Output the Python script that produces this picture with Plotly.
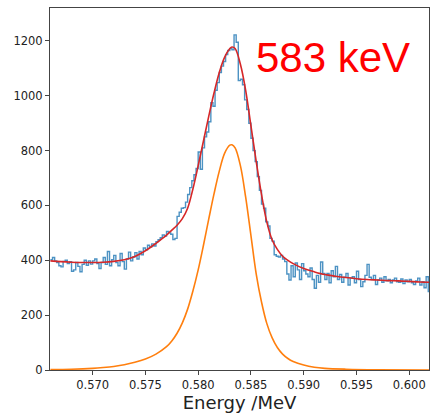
import numpy as np
import plotly.graph_objects as go

# 直方图分箱（MeV）
bin_start = 0.566
bin_width = 0.0002

# 每个分箱的计数
counts = [
    402, 410, 398, 392, 380, 376, 396, 400, 388, 395,
    360, 365, 392, 378, 358, 385, 400, 382, 398, 386,
    398, 405, 388, 370, 392, 410, 385, 432, 380, 402,
    418, 392, 380, 425, 395, 368, 405, 430, 398, 412,
    428, 405, 432, 420, 445, 438, 455, 448, 460, 452,
    468, 475, 482, 492, 488, 505, 500, 495, 476, 480,
    560, 575, 590, 592, 612, 640, 665, 690, 712, 735,
    795, 732, 810, 850, 868, 905, 975, 962, 1020, 1048,
    1085, 1108, 1125, 1150, 1165, 1172, 1168, 1222, 1195, 1055,
    1060, 1040, 985, 950, 900, 845, 800, 760, 705, 655,
    605, 590, 540, 525, 480, 470, 420, 415, 412, 418,
    405, 395, 350, 328, 380, 340, 390, 365, 330, 388,
    362, 350, 340, 372, 330, 298, 345, 320, 394, 352,
    330, 352, 318, 362, 340, 378, 330, 348, 320, 338,
    352, 310, 335, 340, 318, 360, 330, 304, 322, 345,
    385, 338, 330, 345, 312, 328, 335, 320, 340, 325,
    330, 318, 328, 335, 322, 320, 332, 315, 328, 322,
    330, 318, 312, 325, 335, 310, 322, 300, 340, 286,
]

# 总拟合曲线（红）
fit_energy = [0.5660, 0.5670, 0.5680, 0.5690, 0.5700, 0.5710, 0.5720, 0.5730, 0.5740, 0.5750,
              0.5760, 0.5770, 0.5775, 0.5780, 0.5785, 0.5790, 0.5795, 0.5800, 0.5805, 0.5810,
              0.5815, 0.5820, 0.5825, 0.5830, 0.5832, 0.5835, 0.5840, 0.5845, 0.5850, 0.5855,
              0.5860, 0.5865, 0.5870, 0.5875, 0.5880, 0.5885, 0.5890, 0.5900, 0.5910, 0.5920,
              0.5930, 0.5940, 0.5950, 0.5960, 0.5970, 0.5980, 0.5990, 0.6000, 0.6010, 0.6020]
fit_total = [398, 395, 393, 392, 392, 393, 396, 402, 414, 435,
             462, 492, 510, 528, 552, 590, 660, 745, 835, 925,
             1010, 1085, 1140, 1172, 1178, 1172, 1115, 1020, 890, 760,
             640, 540, 475, 440, 415, 400, 388, 370, 358, 348,
             342, 337, 333, 330, 328, 326, 325, 323, 321, 320]

# 峰成分（橙）
peak_energy = [0.5660, 0.5680, 0.5700, 0.5710, 0.5720, 0.5730, 0.5740, 0.5750, 0.5760, 0.5770,
               0.5775, 0.5780, 0.5785, 0.5790, 0.5795, 0.5800, 0.5805, 0.5810, 0.5815, 0.5820,
               0.5825, 0.5830, 0.5832, 0.5835, 0.5840, 0.5845, 0.5850, 0.5855, 0.5860, 0.5865,
               0.5870, 0.5875, 0.5880, 0.5885, 0.5890, 0.5900, 0.5910, 0.5920, 0.5940, 0.5970,
               0.6020]
peak_counts = [2, 3, 6, 9, 13, 19, 28, 40, 58, 85,
               106, 134, 172, 222, 288, 365, 455, 550, 642, 725,
               790, 820, 821, 810, 745, 630, 490, 350, 248, 170,
               118, 82, 58, 42, 31, 18, 10, 6, 3, 1,
               0]

x_ticks = [0.570, 0.575, 0.580, 0.585, 0.590, 0.595, 0.600]
y_ticks = [0, 200, 400, 600, 800, 1000, 1200]

# 阶梯直方图的边界
edges = bin_start + bin_width * np.arange(len(counts) + 1)
step_y = counts + [counts[-1]]

fig = go.Figure()
fig.add_trace(go.Scatter(x=edges, y=step_y, mode='lines',
                         line=dict(color='rgba(31,119,180,0.8)', width=1.4, shape='hv')))
fig.add_trace(go.Scatter(x=fit_energy, y=fit_total, mode='lines',
                         line=dict(color='#d62728', width=1.6, shape='spline')))
fig.add_trace(go.Scatter(x=peak_energy, y=peak_counts, mode='lines',
                         line=dict(color='#ff7f0e', width=1.6, shape='spline')))

axis_style = dict(showline=True, mirror=True, linecolor='#444', linewidth=1,
                  ticks='outside', ticklen=4, tickcolor='#444', showgrid=False, zeroline=False,
                  tickfont=dict(family='DejaVu Sans', size=11.5, color='#222'))

fig.update_layout(
    width=431, height=414,
    margin=dict(l=50, r=2, t=8, b=44),
    plot_bgcolor='white', paper_bgcolor='white',
    showlegend=False,
    xaxis=dict(range=[0.56596, 0.60187], tickvals=x_ticks, tickformat='.3f',
               title=dict(text='Energy /MeV', standoff=4,
                          font=dict(family='DejaVu Sans', size=18, color='#222')),
               **axis_style),
    yaxis=dict(range=[0, 1320], tickvals=y_ticks, **axis_style),
    annotations=[dict(text='583 keV', x=0.747, y=0.862, xref='paper', yref='paper',
                      xanchor='center', yanchor='middle', showarrow=False,
                      font=dict(family='Liberation Sans', size=42, color='red'))],
)

# 去掉页面默认边距，让图从左上角开始
fig.write_html('out.html', config={'displayModeBar': False},
               post_script="document.body.style.margin='0';")
